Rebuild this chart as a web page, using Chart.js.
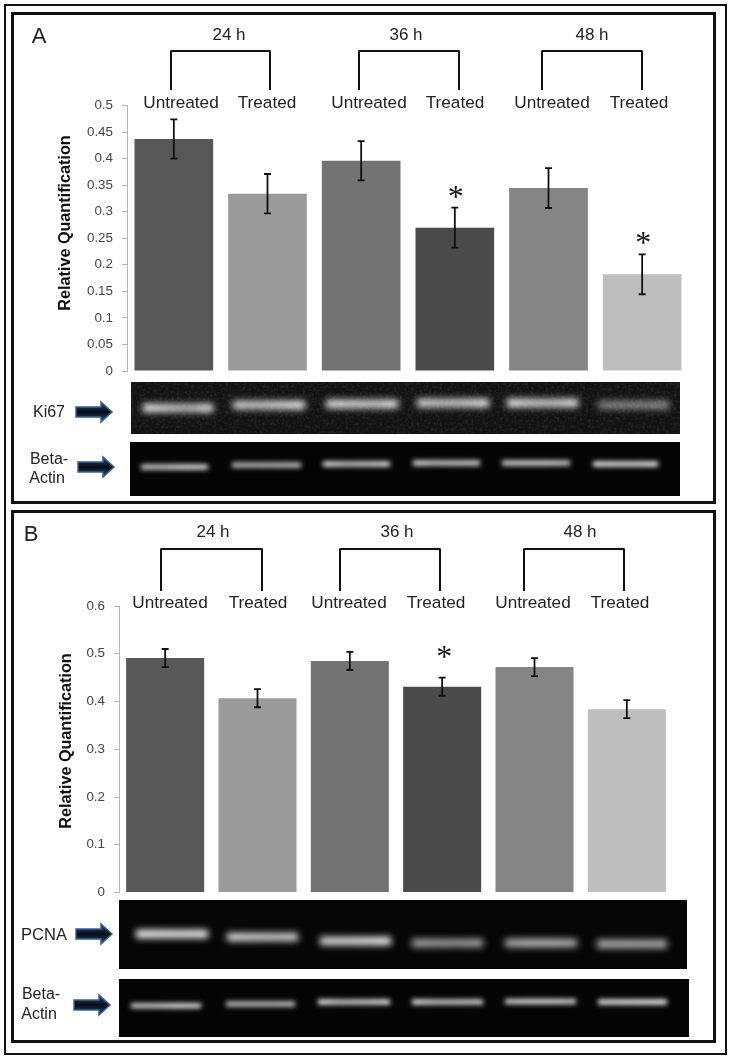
<!DOCTYPE html>
<html>
<head>
<meta charset="utf-8">
<title>Ki67 and PCNA relative quantification</title>
<script src="https://cdn.jsdelivr.net/npm/chart.js@4"></script>
<style>
  html, body { margin: 0; background: #fff; }
  #page { position: relative; width: 730px; height: 1060px; overflow: hidden; font-family: "Liberation Sans", Arial, sans-serif; color: #222; }
  #page canvas, #page svg { position: absolute; }
  .frame { position: absolute; box-sizing: border-box; border: 3px solid #111; }
  .txt { position: absolute; transform: translate(-50%, -50%); white-space: nowrap; }
  .ytitle { font-weight: bold; font-size: 16.2px; transform: translate(-50%, -50%) rotate(-90deg); color: #111; }
  .bracket { position: absolute; box-sizing: border-box; border: 2px solid #111; border-bottom: 0; border-radius: 2px 2px 0 0; }
</style>
</head>
<body>
<div id="page">
  <canvas id="gels" width="730" height="1060" style="left:0;top:0"></canvas>
  <svg width="730" height="1060" style="left:0;top:0">
    <defs>
      <filter id="grain" x="0" y="0" width="100%" height="100%">
        <feTurbulence type="fractalNoise" baseFrequency="0.35" numOctaves="2" seed="4"/>
        <feColorMatrix type="matrix" values="0 0 0 0 1  0 0 0 0 1  0 0 0 0 1  1.4 0 0 0 -0.62"/>
      </filter>
      <linearGradient id="shaft" x1="0" y1="0" x2="0" y2="1">
        <stop offset="0" stop-color="#2f4f7c"/><stop offset="0.5" stop-color="#070b14"/><stop offset="1" stop-color="#2f4f7c"/>
      </linearGradient>
    </defs>
    <rect x="131" y="382" width="549" height="52" filter="url(#grain)" opacity="0.16"/>
    <g id="arrows"></g>
  </svg>
  <canvas id="chartA" width="730" height="505" style="left:0;top:0"></canvas>
  <canvas id="chartB" width="730" height="555" style="left:0;top:505px"></canvas>
</div>

<script>
// datos
const categorias = ['24 h Untreated', '24 h Treated', '36 h Untreated', '36 h Treated', '48 h Untreated', '48 h Treated'];
const etiquetas = ['Untreated', 'Treated', 'Untreated', 'Treated', 'Untreated', 'Treated'];
const horas = ['24 h', '36 h', '48 h'];
const colores = ['#575757', '#9b9b9b', '#737373', '#4a4a4a', '#858585', '#bebebe'];

const ki67 = [0.437, 0.334, 0.396, 0.270, 0.3445, 0.182];
const ki67Error = [0.037, 0.037, 0.037, 0.0375, 0.0375, 0.0375];
const ki67Sig = [false, false, false, true, false, true];

const pcna = [0.491, 0.407, 0.485, 0.431, 0.472, 0.384];
const pcnaError = [0.019, 0.019, 0.019, 0.019, 0.019, 0.019];
const pcnaSig = [false, false, false, true, false, false];

// barras de error y asteriscos
const errorBars = {
  id: 'errorBars',
  afterDatasetsDraw(chart, args, opts) {
    const { ctx, scales } = chart;
    const meta = chart.getDatasetMeta(0);
    const valores = chart.data.datasets[0].data;
    ctx.save();
    ctx.strokeStyle = '#111';
    ctx.lineWidth = 1.8;
    meta.data.forEach((bar, i) => {
      const alto = scales.y.getPixelForValue(valores[i] + opts.errores[i]);
      const bajo = scales.y.getPixelForValue(valores[i] - opts.errores[i]);
      ctx.beginPath();
      ctx.moveTo(bar.x, alto); ctx.lineTo(bar.x, bajo);
      ctx.moveTo(bar.x - 3.5, alto); ctx.lineTo(bar.x + 3.5, alto);
      ctx.moveTo(bar.x - 3.5, bajo); ctx.lineTo(bar.x + 3.5, bajo);
      ctx.stroke();
      if (opts.sig[i]) {
        ctx.fillStyle = '#111';
        ctx.font = '32px "Liberation Serif"';
        ctx.textAlign = 'center';
        ctx.textBaseline = 'alphabetic';
        ctx.fillText('*', bar.x + opts.estrellaX, alto - opts.estrellaY);
      }
    });
    ctx.restore();
  }
};

function crearGrafica(id, valores, errores, sig, cfg) {
  return new Chart(document.getElementById(id).getContext('2d'), {
    type: 'bar',
    data: {
      labels: categorias,
      datasets: [{ data: valores, backgroundColor: colores, barPercentage: cfg.barra, categoryPercentage: 1 }]
    },
    plugins: [errorBars],
    options: {
      responsive: false,
      animation: false,
      layout: { padding: cfg.padding },
      plugins: {
        legend: { display: false },
        tooltip: { enabled: false },
        errorBars: { errores, sig, estrellaX: cfg.estrellaX, estrellaY: cfg.estrellaY }
      },
      scales: {
        x: { display: false },
        y: {
          min: 0,
          max: cfg.max,
          afterFit: s => { s.width = cfg.ancho; },
          border: { color: '#b5b5b5', width: 1 },
          grid: { drawOnChartArea: false, color: '#b5b5b5', tickLength: 5 },
          ticks: {
            stepSize: cfg.paso,
            padding: 9,
            color: '#444',
            font: { family: '"Liberation Sans"', size: 13.4 },
            callback: v => String(+v.toFixed(2))
          }
        }
      }
    }
  });
}

crearGrafica('chartA', ki67, ki67Error, ki67Sig, {
  max: 0.5, paso: 0.05, barra: 0.84, ancho: 77, estrellaX: 1, estrellaY: 1,
  padding: { left: 50, right: 41, top: 105.5, bottom: 134 }
});
crearGrafica('chartB', pcna, pcnaError, pcnaSig, {
  max: 0.6, paso: 0.1, barra: 0.845, ancho: 69, estrellaX: 2, estrellaY: 11,
  padding: { left: 50, right: 57, top: 101, bottom: 167.5 }
});

// textos, marcos y corchetes
const page = document.getElementById('page');

function texto(t, x, y, size, clase) {
  const d = document.createElement('div');
  d.className = 'txt' + (clase ? ' ' + clase : '');
  d.textContent = t;
  d.style.left = x + 'px';
  d.style.top = y + 'px';
  if (size) d.style.fontSize = size + 'px';
  page.appendChild(d);
}

function marco(l, t, r, b, grosor) {
  const d = document.createElement('div');
  d.className = 'frame';
  d.style.cssText = `left:${l}px;top:${t}px;width:${r - l}px;height:${b - t}px;border-width:${grosor}px`;
  page.appendChild(d);
}

function corchete(l, r, t, b) {
  const d = document.createElement('div');
  d.className = 'bracket';
  d.style.cssText = `left:${l}px;top:${t}px;width:${r - l}px;height:${b - t}px`;
  page.appendChild(d);
}

marco(4, 4, 727, 1055, 2);
marco(11, 12, 716, 504, 3);
marco(11, 510, 716, 1043, 3);

texto('A', 39, 36, 22);
texto('B', 31, 534, 22);

[229, 406, 592].forEach((x, i) => texto(horas[i], x, 35, 17));
[213, 397, 580].forEach((x, i) => texto(horas[i], x, 532, 17));
[[170, 271], [358, 460], [541, 643]].forEach(c => corchete(c[0], c[1], 50, 90));
[[160, 263], [339, 441], [523, 625]].forEach(c => corchete(c[0], c[1], 548, 591));

[181, 267, 369, 455, 552, 639].forEach((x, i) => texto(etiquetas[i], x, 102, 17.2));
[170, 258, 349, 436, 533, 620].forEach((x, i) => texto(etiquetas[i], x, 602, 17.2));

texto('Relative Quantification', 64, 222.5, 0, 'ytitle');
texto('Relative Quantification', 65, 740.5, 0, 'ytitle');

texto('Ki67', 49, 412, 16);
texto('Beta-', 49, 459, 16);
texto('Actin', 47, 478, 16);
texto('PCNA', 44, 934, 16.5);
texto('Beta-', 41, 994, 16);
texto('Actin', 39, 1014, 16);

// flechas
const flechas = [[76, 412], [78, 467], [76, 934], [74, 1005]];
document.getElementById('arrows').innerHTML = flechas.map(([x, y]) =>
  `<path d="M${x} ${y - 5}H${x + 25}V${y - 10}L${x + 36} ${y}L${x + 25} ${y + 10}V${y + 5}H${x}Z" fill="url(#shaft)" stroke="#3a5f8f" stroke-width="1.5"/>`
).join('');

// geles: foto de fondo, no son datos de la grafica
const gelCtx = document.getElementById('gels').getContext('2d');

const gelKi67 = {
  caja: [131, 382, 549, 52], fondo: '#131313', grueso: 8, difuso: 3.6,
  bandas: [
    [143, 213, 408, [255, 215, 195, 255]],
    [233, 305, 405, [230, 210, 230, 255]],
    [326, 398, 404, [240, 230, 220, 255]],
    [417, 489, 403, [235, 210, 220, 255]],
    [507, 578, 403, [255, 220, 210, 255]],
    [598, 669, 405, [135, 140, 140, 150]]
  ]
};
const gelBetaA = {
  caja: [130, 442, 550, 54], fondo: '#050505', grueso: 5, difuso: 2.8,
  bandas: [
    [141, 208, 467, [215, 215, 240, 230]],
    [232, 301, 465, [200, 195, 200, 210]],
    [323, 390, 464, [250, 210, 220, 245]],
    [413, 480, 463, [240, 215, 220, 230]],
    [502, 570, 463, [220, 230, 230, 215]],
    [593, 658, 464, [250, 240, 240, 255]]
  ]
};
const gelPcna = {
  caja: [119, 900, 568, 69], fondo: '#060606', grueso: 8, difuso: 3.6,
  bandas: [
    [136, 208, 934, [255, 250, 245, 255]],
    [227, 298, 937, [235, 220, 210, 225]],
    [320, 391, 941, [230, 230, 240, 255]],
    [412, 483, 943, [175, 165, 160, 180]],
    [505, 577, 943, [175, 195, 195, 180]],
    [597, 667, 944, [185, 185, 180, 185]]
  ]
};
const gelBetaB = {
  caja: [119, 979, 570, 58], fondo: '#050505', grueso: 5, difuso: 2.8,
  bandas: [
    [131, 201, 1005.7, [215, 215, 240, 225]],
    [226, 295, 1004, [200, 200, 200, 210]],
    [318, 390, 1002, [255, 215, 225, 250]],
    [412, 483, 1002, [250, 215, 220, 230]],
    [505, 576, 1001.5, [220, 235, 235, 220]],
    [598, 667, 1002, [240, 245, 250, 255]]
  ]
};

function pintarGel(gel) {
  const [x, y, w, h] = gel.caja;
  gelCtx.save();
  gelCtx.beginPath();
  gelCtx.rect(x, y, w, h);
  gelCtx.clip();
  gelCtx.fillStyle = gel.fondo;
  gelCtx.fillRect(x, y, w, h);
  gelCtx.filter = `blur(${gel.difuso}px)`;
  gel.bandas.forEach(([x0, x1, cy, niveles]) => {
    const g = gelCtx.createLinearGradient(x0, 0, x1, 0);
    niveles.forEach((n, i) => g.addColorStop(i / (niveles.length - 1), `rgb(${n},${n},${n})`));
    gelCtx.fillStyle = g;
    gelCtx.fillRect(x0, cy - gel.grueso / 2, x1 - x0, gel.grueso);
  });
  gelCtx.restore();
}

[gelKi67, gelBetaA, gelPcna, gelBetaB].forEach(pintarGel);
</script>
</body>
</html>
